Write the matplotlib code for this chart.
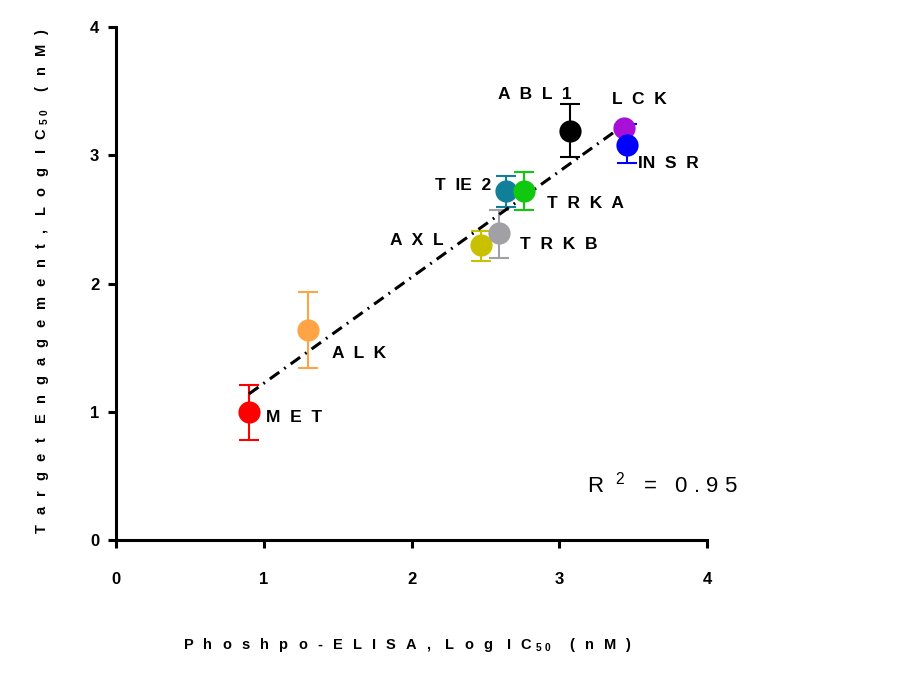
import numpy as np
import matplotlib
matplotlib.use("Agg")
import matplotlib.pyplot as plt

plt.rcParams['font.family'] = ['Liberation Sans', 'DejaVu Sans']
plt.rcParams['mathtext.fontset'] = 'custom'
plt.rcParams['mathtext.rm'] = 'Liberation Sans'
plt.rcParams['mathtext.bf'] = 'Liberation Sans:bold'

# ---- data ----
kinases = ["MET", "ALK", "AXL", "TRKB", "TIE2", "TRKA", "ABL1", "LCK", "INSR"]
labels = ["M  E  T", "A  L  K", "A  X  L", "T  R  K  B", "T  IE  2", "T  R  K  A", "A  B  L  1", "L  C  K", "IN  S  R"]
elisa = [0.90, 1.30, 2.47, 2.59, 2.64, 2.76, 3.07, 3.44, 3.46]
target = [1.00, 1.64, 2.30, 2.39, 2.72, 2.72, 3.19, 3.215, 3.08]
err_low = [0.22, 0.30, 0.125, 0.19, 0.125, 0.15, 0.20, 0.02, 0.14]
err_high = [0.21, 0.29, 0.11, 0.18, 0.12, 0.15, 0.21, 0.02, 0.16]
colors = ["#FF0000", "#FFA445", "#C8C000", "#A0A0A5", "#10809A", "#10C810", "#000000", "#A810D8", "#0000FF"]
# label offsets in points (dx, dy) and alignment
label_offsets = [(12, -4), (17, -17), (-27, 3), (15, -8), (-11, 4), (17, -9), (1.5, 26), (-9, 20), (8, -13)]
label_ha = ["left", "left", "right", "left", "right", "left", "right", "left", "left"]
r2_text = "0 . 9 5"
xticks = [0, 1, 2, 3, 4]
yticks = [0, 1, 2, 3, 4]
xlabel_main, ylabel_main, unit = "Phoshpo-ELISA, Log IC", "Target Engagement, Log IC", "(nM)"

GAP = "\u2002\u2009"


def track(s):
    out = []
    for w in s.split(" "):
        out.append(GAP.join(w))
    return (GAP + " ").join(out)


fig = plt.figure(figsize=(9.12, 6.91), dpi=100)
ax = fig.add_axes([116/912, 1-540/691, (707-116)/912, (540-27)/691])
ax.set_xlim(0, 4)
ax.set_ylim(0, 4)

# error bars first
for i in range(len(kinases)):
    ax.errorbar([elisa[i]], [target[i]], yerr=[[err_low[i]], [err_high[i]]],
                fmt='none', ecolor=colors[i], elinewidth=1.5, capsize=7.2,
                capthick=1.5, zorder=2)

# fit line
slope, intercept = np.polyfit(elisa, target, 1)
xf = np.array([min(elisa), max(elisa)])
ax.plot(xf, slope*xf + intercept, color='black', lw=2.2,
        linestyle=(0, (3.8, 2.0, 0.6, 2.0)), zorder=3)

# markers
for i in range(len(kinases)):
    ax.plot([elisa[i]], [target[i]], 'o', color=colors[i], markersize=16,
            markeredgewidth=0, zorder=4)
    ax.annotate(labels[i], (elisa[i], target[i]), xytext=label_offsets[i],
                textcoords='offset points', ha=label_ha[i], va='center',
                fontsize=12.5, fontweight='bold', zorder=5)

for s in ['top', 'right']:
    ax.spines[s].set_visible(False)
for s in ['left', 'bottom']:
    ax.spines[s].set_linewidth(2.2)
ax.set_xticks(xticks)
ax.set_yticks(yticks)
ax.set_xticklabels([str(t) for t in xticks], fontsize=12, fontweight='bold')
ax.set_yticklabels([str(t) for t in yticks], fontsize=12, fontweight='bold')
ax.tick_params(axis='x', length=6, width=2.2, direction='out', pad=17)
ax.tick_params(axis='y', length=6, width=2.2, direction='out', pad=6)

ax.text(587/912, 1-485/691, r"R  $^{2}$   =   " + r2_text, transform=fig.transFigure,
        fontsize=16, ha='left', va='center')

sub = r" $_{\mathbf{5\ 0}}$  " + GAP
fig.text(408/912, 1-645/691, track(xlabel_main) + sub + track(unit),
         ha='center', va='center', fontsize=10.5, fontweight='bold')
fig.text(42/912, 1-281/691, track(ylabel_main) + sub + track(unit),
         ha='center', va='center', fontsize=10.5, fontweight='bold', rotation=90)

fig.savefig("out.png", dpi=100)
